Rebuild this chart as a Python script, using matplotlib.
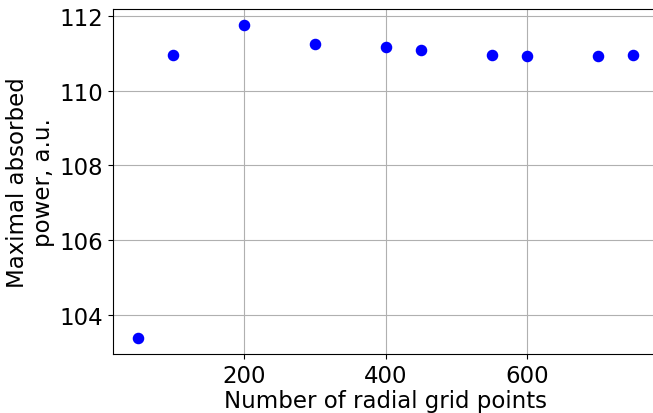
import matplotlib
matplotlib.use("Agg")
import matplotlib.pyplot as plt

# grid sizes and max absorbed power
n_points = [50, 100, 200, 300, 400, 450, 550, 600, 700, 750]
max_power = [103.37, 110.96, 111.77, 111.25, 111.17, 111.09, 110.96, 110.94, 110.93, 110.96]

fig = plt.figure(figsize=(6.53, 4.14), dpi=100)
ax = fig.add_axes([113/653, 1 - 355/414, (658 - 113)/653, (355 - 10)/414])

ax.plot(n_points, max_power, 'o', color='blue', ms=7.3)
ax.grid(True)
ax.set_xticks([200, 400, 600])
ax.set_yticks([104, 106, 108, 110, 112])
ax.tick_params(labelsize=16.5)
ax.set_xlabel("Number of radial grid points", fontsize=16.5, labelpad=1.5)
ax.set_ylabel("Maximal absorbed\npower, a.u.", fontsize=16.5, labelpad=3)

fig.savefig("out.png", dpi=100)
